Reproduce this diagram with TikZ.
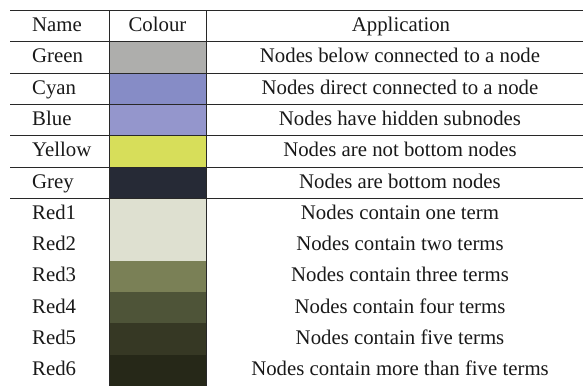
\documentclass[tikz,border=0pt]{standalone}
\usepackage{fontspec}
\setmainfont{Liberation Serif}
\definecolor{cgreen}{RGB}{174,174,172}
\definecolor{ccyan}{RGB}{134,140,198}
\definecolor{cblue}{RGB}{148,150,204}
\definecolor{cyellow}{RGB}{215,222,90}
\definecolor{cgrey}{RGB}{38,42,54}
\definecolor{credone}{RGB}{222,224,208}
\definecolor{credtwo}{RGB}{222,224,208}
\definecolor{credthree}{RGB}{122,128,86}
\definecolor{credfour}{RGB}{78,84,56}
\definecolor{credfive}{RGB}{54,56,36}
\definecolor{credsix}{RGB}{38,40,24}
\definecolor{rule}{RGB}{40,40,40}

\begin{document}
\begin{tikzpicture}[x=1pt,y=-1pt,font=\fontsize{20.8}{24}\selectfont]
\tikzstyle {sw}=[rectangle, minimum width=97pt, minimum height=31.4pt, inner sep=0pt, draw=none]
\tikzstyle {nm}=[anchor=base west, inner sep=0pt, text=black!90]
\tikzstyle {ap}=[anchor=base, inner sep=0pt, text=black!90]
\tikzstyle {hl}=[draw=rule, line width=1pt]
\useasboundingbox (0,0) rectangle (583,386);
% swatches
\node (sgreen) [sw, fill=cgreen] at (157.5,57.45) {};
\node (scyan) [sw, fill=ccyan] at (157.5,88.75) {};
\node (sblue) [sw, fill=cblue] at (157.5,120.05) {};
\node (syellow) [sw, fill=cyellow] at (157.5,151.35) {};
\node (sgrey) [sw, fill=cgrey] at (157.5,182.65) {};
\node (sred1) [sw, fill=credone] at (157.5,213.95) {};
\node (sred2) [sw, fill=credtwo] at (157.5,245.25) {};
\node (sred3) [sw, fill=credthree] at (157.5,276.55) {};
\node (sred4) [sw, fill=credfour] at (157.5,307.85) {};
\node (sred5) [sw, fill=credfive] at (157.5,339.15) {};
\node (sred6) [sw, fill=credsix] at (157.5,370.45) {};
% header
\node (hname) [nm] at (32,31.5) {Name};
\node (hcol) [ap] at (157.5,31.5) {Colour};
\node (happ) [ap] at (401,31.5) {Application};
% rows
\node (ngreen) [nm] at (32,62.8) {Green};
\node (agreen) [ap] at (400,62.8) {Nodes below connected to a node};
\node (ncyan) [nm] at (32,94.1) {Cyan};
\node (acyan) [ap] at (400,94.1) {Nodes direct connected to a node};
\node (nblue) [nm] at (32,125.4) {Blue};
\node (ablue) [ap] at (400,125.4) {Nodes have hidden subnodes};
\node (nyellow) [nm] at (32,156.7) {Yellow};
\node (ayellow) [ap] at (400,156.7) {Nodes are not bottom nodes};
\node (ngrey) [nm] at (32,188) {Grey};
\node (agrey) [ap] at (400,188) {Nodes are bottom nodes};
\node (nred1) [nm] at (32,219.3) {Red1};
\node (ared1) [ap] at (400,219.3) {Nodes contain one term};
\node (nred2) [nm] at (32,250.6) {Red2};
\node (ared2) [ap] at (400,250.6) {Nodes contain two terms};
\node (nred3) [nm] at (32,281.9) {Red3};
\node (ared3) [ap] at (400,281.9) {Nodes contain three terms};
\node (nred4) [nm] at (32,313.2) {Red4};
\node (ared4) [ap] at (400,313.2) {Nodes contain four terms};
\node (nred5) [nm] at (32,344.5) {Red5};
\node (ared5) [ap] at (400,344.5) {Nodes contain five terms};
\node (nred6) [nm] at (32,375.8) {Red6};
\node (ared6) [ap] at (400,375.8) {Nodes contain more than five terms};
% rules
\draw [hl, line width=1.4pt] (10,10.5) -- (583,10.5);
\draw [hl] (10,41.8) -- (583,41.8);
\draw [hl] (10,73.1) -- (583,73.1);
\draw [hl] (10,104.4) -- (583,104.4);
\draw [hl] (10,135.7) -- (583,135.7);
\draw [hl] (10,167) -- (583,167);
\draw [hl] (10,198.3) -- (583,198.3);
\draw [hl] (109,10.5) -- (109,386);
\draw [hl] (206,10.5) -- (206,386);
\end{tikzpicture}
\end{document}
